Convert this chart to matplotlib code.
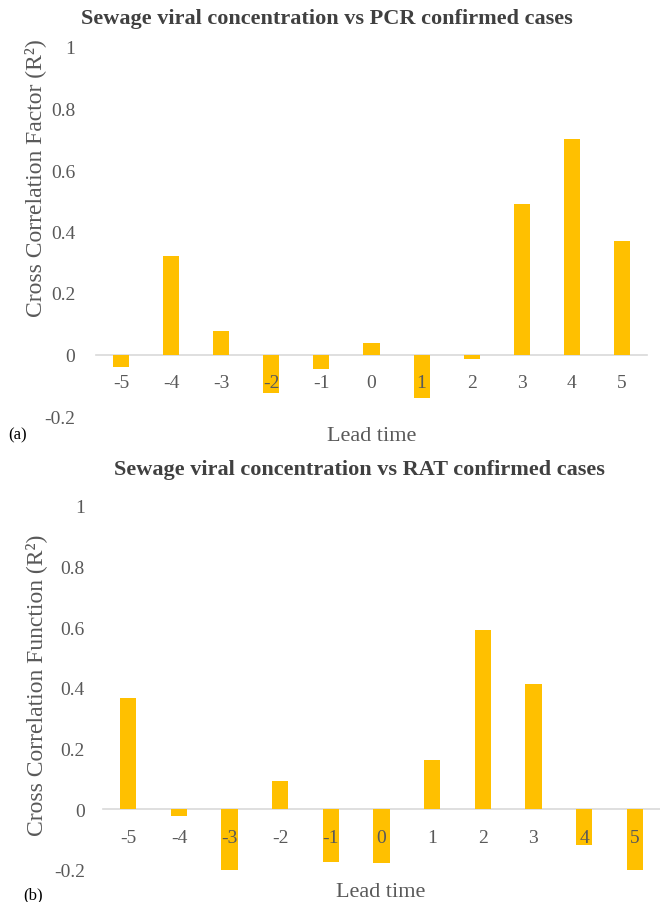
import matplotlib
matplotlib.use('Agg')
import matplotlib.pyplot as plt

lags = ['-5', '-4', '-3', '-2', '-1', '0', '1', '2', '3', '4', '5']
pcr_r2 = [-0.04, 0.32, 0.075, -0.126, -0.048, 0.036, -0.142, -0.014, 0.49, 0.70, 0.37]
rat_r2 = [0.366, -0.022, -0.20, 0.095, -0.172, -0.177, 0.161, 0.592, 0.413, -0.117, -0.20]
yticks = [-0.2, 0, 0.2, 0.4, 0.6, 0.8, 1]
ytick_labels = ['-0.2', '0', '0.2', '0.4', '0.6', '0.8', '1']

plt.rcParams['font.family'] = ['Liberation Serif', 'DejaVu Serif']

BAR = '#FFC000'
GREY = '#595959'

W, H = 660, 903
fig = plt.figure(figsize=(W / 100, H / 100), dpi=100)


def px(x, y):
    # pixel (from top-left) -> figure fraction
    return x / W, 1 - y / H


def panel(rect, vals, title, title_xy, ylabel, ylabel_xy, ypad, lead_xy, tag, tag_xy):
    ax = fig.add_axes(rect)
    pos = list(range(len(lags)))
    ax.bar(pos, vals, width=0.32, color=BAR, zorder=1)
    ax.set_xlim(-0.5, len(lags) - 0.5)
    ax.set_ylim(-0.2, 1)
    ax.set_xticks(pos)
    ax.set_xticklabels(lags)
    ax.set_yticks(yticks)
    ax.set_yticklabels(ytick_labels)
    for s in ['top', 'right', 'left']:
        ax.spines[s].set_visible(False)
    ax.spines['bottom'].set_position(('data', 0))
    ax.spines['bottom'].set_color('#D9D9D9')
    ax.spines['bottom'].set_linewidth(1.2)
    ax.spines['bottom'].set_zorder(0.5)
    ax.tick_params(axis='x', length=0, pad=14, labelsize=14, labelcolor=GREY)
    ax.tick_params(axis='y', length=0, pad=ypad, labelsize=14, labelcolor=GREY)
    for t in ax.get_xticklabels():
        t.set_zorder(3)
    fig.text(*px(*title_xy), title, ha='center', va='center', fontsize=16,
             fontweight='bold', color='#404040')
    fig.text(*px(*ylabel_xy), ylabel, ha='center', va='center', rotation=90,
             fontsize=17, color=GREY)
    fig.text(*px(*lead_xy), 'Lead time', ha='center', va='center', fontsize=16, color=GREY)
    fig.text(*px(*tag_xy), tag, ha='center', va='center', fontsize=12, color='black')
    return ax


panel([96 / W, 1 - 417 / H, 551 / W, 369 / H], pcr_r2,
      'Sewage viral concentration vs PCR confirmed cases', (327, 19),
      'Cross Correlation Factor (R²)', (35, 178), 15,
      (372, 437), '(a)', (18, 435))

panel([103 / W, 1 - 871 / H, 557 / W, 364 / H], rat_r2,
      'Sewage viral concentration vs RAT confirmed cases', (359, 470),
      'Cross Correlation Function (R²)', (36, 685), 13,
      (381, 893), '(b)', (33, 895))

fig.savefig('out.png', dpi=100)
